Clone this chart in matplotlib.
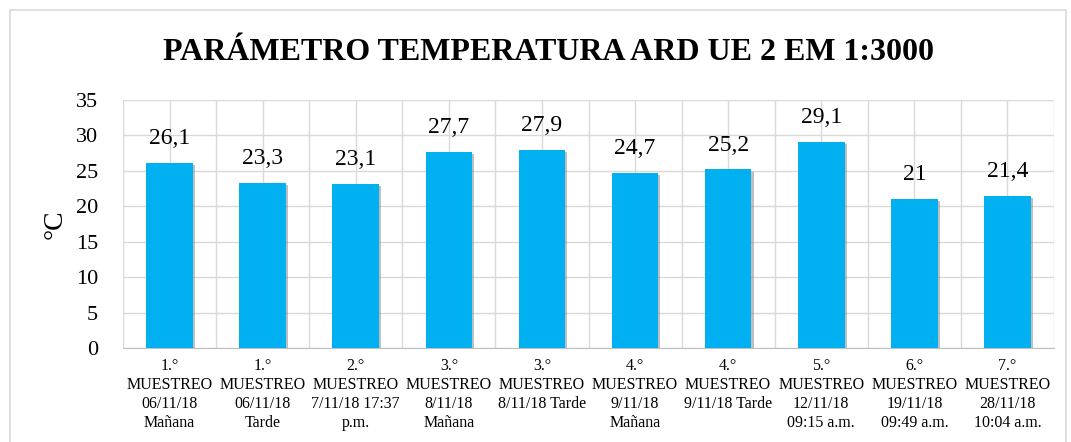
import numpy as np
import matplotlib.pyplot as plt
import matplotlib.patheffects as pe
from matplotlib.patches import Rectangle

plt.rcParams['font.family'] = ['Liberation Serif', 'DejaVu Serif']

# data
labels = ['1.°\nMUESTREO\n06/11/18\nMañana',
          '1.°\nMUESTREO\n06/11/18\nTarde',
          '2.°\nMUESTREO\n7/11/18 17:37\np.m.',
          '3.°\nMUESTREO\n8/11/18\nMañana',
          '3.°\nMUESTREO\n8/11/18 Tarde',
          '4.°\nMUESTREO\n9/11/18\nMañana',
          '4.°\nMUESTREO\n9/11/18 Tarde',
          '5.°\nMUESTREO\n12/11/18\n09:15 a.m.',
          '6.°\nMUESTREO\n19/11/18\n09:49 a.m.',
          '7.°\nMUESTREO\n28/11/18\n10:04 a.m.']
temps = [26.1, 23.3, 23.1, 27.7, 27.9, 24.7, 25.2, 29.1, 21.0, 21.4]
yticks = [0, 5, 10, 15, 20, 25, 30, 35]

fig = plt.figure(figsize=(10.71, 4.42), dpi=100)
ax = fig.add_axes([123/1071, 1 - 348/442, (1054 - 123)/1071, (348 - 100)/442])

# outer chart border
fig.patches.append(Rectangle((10/1071, -0.01), 1056/1071, 1 - 10/442 + 0.01,
                             transform=fig.transFigure, fill=False,
                             edgecolor='#D9D9D9', linewidth=1.2))

x = np.arange(len(temps))
bars = ax.bar(x, temps, width=0.5, color='#00B0F0', zorder=3)
for b in bars:
    b.set_path_effects([pe.SimplePatchShadow(offset=(1.5, -1.5), shadow_rgbFace='#808080', alpha=0.5),
                        pe.Normal()])

fmt = [('%g' % v).replace('.', ',') for v in temps]
ax.bar_label(bars, labels=fmt, padding=10, fontsize=17)

ax.set_ylim(0, 35)
ax.set_yticks(yticks)
ax.set_xlim(-0.5, len(temps) - 0.5)
ax.set_xticks(x)
ax.set_xticklabels(labels, fontsize=11.5, linespacing=1.25)
ax.set_xticks(np.arange(-0.5, len(temps), 1.0), minor=True)
ax.tick_params(axis='both', which='both', length=0)
ax.tick_params(axis='y', labelsize=16, pad=18)
ax.tick_params(axis='x', pad=7)

ax.grid(axis='y', color='#D9D9D9', linewidth=1, zorder=0)
ax.grid(axis='x', which='both', color='#D9D9D9', linewidth=1, zorder=0)
for s in ['top', 'right', 'left']:
    ax.spines[s].set_visible(False)
ax.spines['bottom'].set_color('#BFBFBF')
ax.set_axisbelow(True)

ax.set_ylabel('°C', fontsize=20, labelpad=6)
fig.text(0.512, 1 - 52/442, 'PARÁMETRO TEMPERATURA ARD UE 2 EM 1:3000',
         ha='center', va='center', fontsize=23, fontweight='bold')

fig.savefig('out.png', dpi=100)
